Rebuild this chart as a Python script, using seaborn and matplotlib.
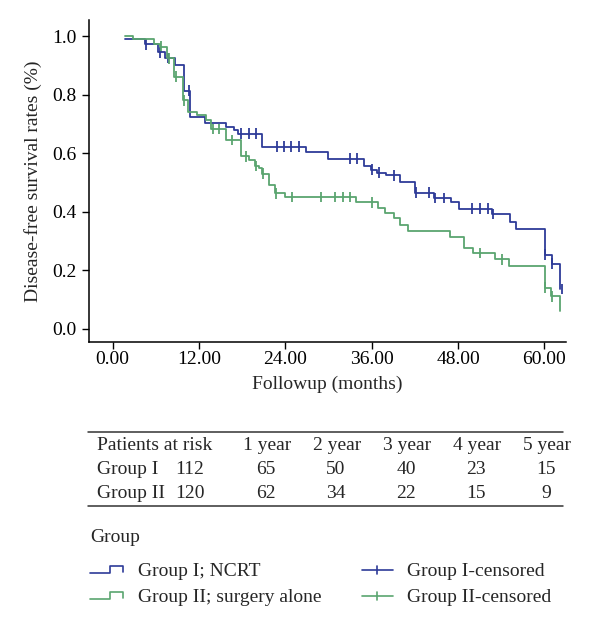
import numpy as np
import pandas as pd
import seaborn as sns
import matplotlib.pyplot as plt

# Kaplan-Meier steps: time (months) and survival after the step
g1_times = [1.66, 4.43, 6.23, 7.20, 8.59, 9.97, 10.80, 12.88, 15.75, 16.90, 17.45, 20.68,
            26.91, 29.92, 34.90, 35.83, 36.75, 37.99, 39.99, 42.06, 44.60, 47.05, 48.16,
            52.77, 55.22, 56.00, 60.07, 61.08, 62.20]
g1_surv = [0.99, 0.972, 0.944, 0.925, 0.90, 0.813, 0.725, 0.703, 0.69, 0.678, 0.666, 0.622,
           0.605, 0.581, 0.556, 0.543, 0.533, 0.524, 0.50, 0.465, 0.446, 0.431, 0.41,
           0.392, 0.366, 0.341, 0.253, 0.222, 0.135]
g1_censor = [4.67, 6.51, 7.62, 10.53, 17.83, 19.0, 19.94, 22.85, 23.82, 24.75, 25.9, 32.92,
             33.98, 36.04, 37.0, 39.06, 42.1, 43.9, 44.85, 45.98, 49.9, 51.06, 52.1, 52.91,
             60.1, 61.1, 62.4]

g2_times = [1.66, 2.77, 5.68, 6.50, 7.48, 8.45, 9.70, 10.43, 11.68, 12.98, 13.71, 15.75,
            17.83, 18.98, 19.81, 20.36, 20.78, 21.75, 22.58, 23.96, 33.84, 36.88, 37.91,
            39.06, 39.99, 41.04, 46.91, 48.89, 50.14, 53.14, 55.12, 60.07, 60.98, 62.20]
g2_surv = [1.0, 0.99, 0.973, 0.964, 0.924, 0.861, 0.78, 0.742, 0.73, 0.713, 0.682, 0.645,
           0.589, 0.575, 0.556, 0.548, 0.529, 0.49, 0.463, 0.45, 0.431, 0.412, 0.395,
           0.378, 0.355, 0.332, 0.313, 0.275, 0.258, 0.237, 0.213, 0.14, 0.11, 0.06]
g2_censor = [6.75, 7.80, 8.73, 9.9, 13.9, 14.82, 16.58, 18.52, 19.94, 20.86, 22.76, 24.89,
             28.9, 30.89, 32.0, 32.92, 35.97, 51.06, 54.06, 60.1, 61.0]

group_names = ['Group I; NCRT', 'Group II; surgery alone']
risk_years = ['1 year', '2 year', '3 year', '4 year', '5 year']
risk_g1 = [65, 50, 40, 23, 15]
risk_g2 = [62, 34, 22, 15, 9]
n_start = [112, 120]

blue = '#2e3b98'
green = '#5aa56f'
palette = {group_names[0]: blue, group_names[1]: green}


def surv_at(times, surv, t):
    i = np.searchsorted(times, t, side='right') - 1
    return surv[max(i, 0)]


curves = pd.concat([
    pd.DataFrame({'t': g1_times, 'S': g1_surv, 'group': group_names[0]}),
    pd.DataFrame({'t': g2_times, 'S': g2_surv, 'group': group_names[1]}),
])
cens = pd.concat([
    pd.DataFrame({'t': g1_censor, 'S': [surv_at(g1_times, g1_surv, t) for t in g1_censor],
                  'group': group_names[0]}),
    pd.DataFrame({'t': g2_censor, 'S': [surv_at(g2_times, g2_surv, t) for t in g2_censor],
                  'group': group_names[1]}),
])

sns.set_theme(style='ticks')
plt.rcParams['font.family'] = ['Liberation Serif', 'DejaVu Serif']

fig = plt.figure(figsize=(6, 6.3), dpi=100)
ax = fig.add_axes([89 / 600, 1 - 342 / 630, (566 - 89) / 600, (342 - 20) / 630])

sns.lineplot(data=curves, x='t', y='S', hue='group', palette=palette, estimator=None,
             sort=False, drawstyle='steps-post', lw=1.3, legend=False, ax=ax)
sns.scatterplot(data=cens, x='t', y='S', hue='group', palette=palette, marker='|',
                s=60, linewidth=1.3, legend=False, ax=ax)

ax.set_xlim(-3.3, 63.0)
ax.set_ylim(-0.046, 1.055)
ax.set_xticks(np.arange(0, 61, 12))
ax.set_xticklabels([f'{v:.2f}' for v in np.arange(0, 61, 12)])
ax.set_yticks(np.arange(0, 1.01, 0.2))
ax.set_yticklabels([f'{v:.1f}' for v in np.arange(0, 1.01, 0.2)])
ax.tick_params(direction='out', length=5, width=1, labelsize=14, colors='black', pad=4)
ax.tick_params(axis='x', pad=1.5)
for s in ['top', 'right']:
    ax.spines[s].set_visible(False)
for s in ['left', 'bottom']:
    ax.spines[s].set_linewidth(1.1)
    ax.spines[s].set_color('black')
ax.set_xlabel('Followup (months)', fontsize=14)
ax.set_ylabel('Disease-free survival rates (%)', fontsize=14)
ax.xaxis.set_label_coords(0.5, -0.105)
ax.yaxis.set_label_coords(-0.099, 0.5)

# overlay in pixel units for the risk table and legend
ov = fig.add_axes([0, 0, 1, 1], zorder=-1)
ov.set_xlim(0, 600)
ov.set_ylim(630, 0)
ov.axis('off')

fs = 14
ov.plot([88, 563], [432, 432], color='#333333', lw=1.1)
ov.plot([88, 563], [506, 506], color='#333333', lw=1.1)
ov.text(97, 445, 'Patients at risk', fontsize=fs, va='center', ha='left')
rows = [('Group I', n_start[0], risk_g1, 470), ('Group II', n_start[1], risk_g2, 494)]
for i, yr in enumerate(risk_years):
    ov.text(267 + 70 * i, 445, yr, fontsize=fs, va='center', ha='center')
for name, n0, vals, y in rows:
    ov.text(97, y, name, fontsize=fs, va='center', ha='left')
    ov.text(175, y, str(n0), fontsize=fs, va='center', ha='left')
    for i, v in enumerate(vals):
        ov.text(266 + 70 * i, y, str(v), fontsize=fs, va='center', ha='center')

ov.text(90, 537, 'Group', fontsize=fs, va='center', ha='left')
for k, (name, col) in enumerate(zip(group_names, [blue, green])):
    y = 571 + 26 * k
    ov.plot([90, 110, 110, 123, 123], [y + 2, y + 2, y - 5, y - 5, y + 1], color=col, lw=1.2)
    ov.text(138, y, name, fontsize=fs, va='center', ha='left')
    ov.plot([362, 393], [y - 1, y - 1], color=col, lw=1.2)
    ov.plot([377, 377], [y - 5, y + 3], color=col, lw=1.2)
    ov.text(407, y, name.split(';')[0] + '-censored', fontsize=fs, va='center', ha='left')

fig.savefig('out.png', dpi=100)
